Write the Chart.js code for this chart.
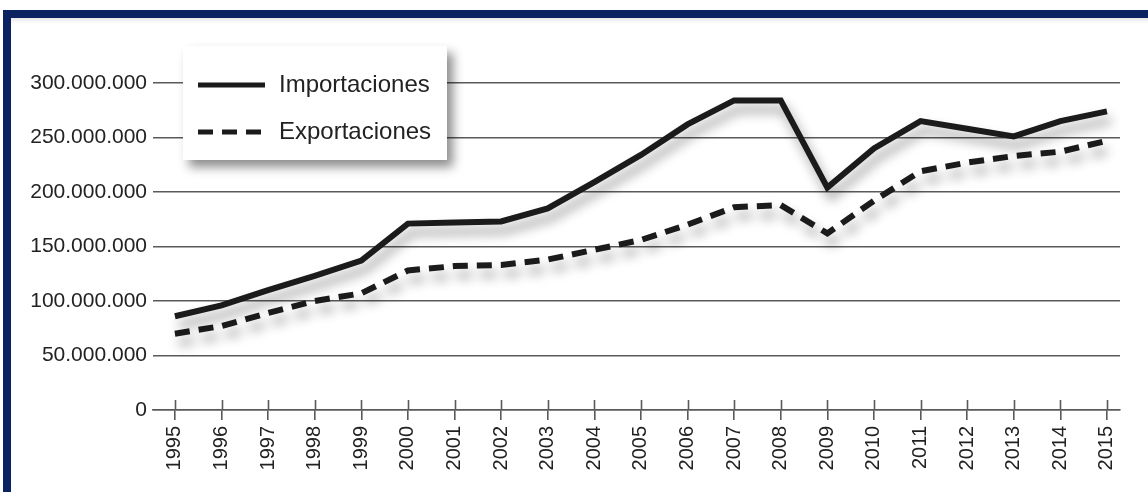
<!DOCTYPE html>
<html>
<head>
<meta charset="utf-8">
<script src="https://cdn.jsdelivr.net/npm/chart.js@4"></script>
<style>
  html, body { margin: 0; padding: 0; background: #fff; }
  #frame {
    position: absolute; left: 3px; top: 10px; width: 1145px; height: 477px;
    border-left: 8px solid #0b2461; border-top: 8px solid #0b2461; border-bottom: 5px solid #0b2461;
    background: #fff; box-shadow: inset 0 5px 5px -3px rgba(0,0,0,0.12);
  }
  #chart-area { position: absolute; left: 0; top: 0; width: 1137px; height: 469px; }
</style>
</head>
<body>
<div id="frame"><div id="chart-area"><canvas id="myChart" width="1137" height="469"></canvas></div></div>
<script>
// years on the x axis
const years = [1995, 1996, 1997, 1998, 1999, 2000, 2001, 2002, 2003, 2004, 2005,
               2006, 2007, 2008, 2009, 2010, 2011, 2012, 2013, 2014, 2015];

const importaciones = [86000000, 96000000, 110000000, 123000000, 137000000, 171000000, 172000000,
                       173000000, 185000000, 209000000, 234000000, 262000000, 284000000, 284000000,
                       204000000, 240000000, 265000000, 258000000, 251000000, 265000000, 274000000];

const exportaciones = [70000000, 77000000, 89000000, 100000000, 107000000, 128000000, 132000000,
                       133000000, 138000000, 147000000, 156000000, 170000000, 186000000, 188000000,
                       162000000, 192000000, 219000000, 227000000, 233000000, 237000000, 247000000];

const yTicks = [0, 50000000, 100000000, 150000000, 200000000, 250000000, 300000000];

const ink = '#1b1b1b';
const gridCol = '#5a5a5a';

function fmt(v) {
    return String(v).replace(/\B(?=(\d{3})+(?!\d))/g, '.');
}

// soft shadow under the two lines
const lineShadow = {
    id: 'lineShadow',
    beforeDatasetDraw(chart) {
        const ctx = chart.ctx;
        ctx.save();
        ctx.shadowColor = 'rgba(0,0,0,0.4)';
        ctx.shadowBlur = 12;
        ctx.shadowOffsetX = 4;
        ctx.shadowOffsetY = 9;
    },
    afterDatasetDraw(chart) {
        chart.ctx.restore();
    }
};

// upper half of the x tick marks (crossing the axis)
const crossTicks = {
    id: 'crossTicks',
    afterDraw(chart) {
        const x = chart.scales.x;
        const ctx = chart.ctx;
        ctx.save();
        ctx.strokeStyle = gridCol;
        ctx.lineWidth = 1.6;
        x.ticks.forEach(t => {
            const px = Math.round(x.getPixelForValue(t.value)) + 0.5;
            ctx.beginPath();
            ctx.moveTo(px, x.top - 10);
            ctx.lineTo(px, x.top);
            ctx.stroke();
        });
        ctx.restore();
    }
};

// boxed legend with drop shadow in the top left corner
const boxLegend = {
    id: 'boxLegend',
    afterDatasetsDraw(chart) {
        const ctx = chart.ctx;
        const a = chart.chartArea;
        const bx = a.left + 30, by = a.top - 37, bw = 264, bh = 114;
        ctx.save();
        ctx.shadowColor = 'rgba(0,0,0,0.45)';
        ctx.shadowBlur = 10;
        ctx.shadowOffsetX = 6;
        ctx.shadowOffsetY = 7;
        ctx.fillStyle = '#fff';
        ctx.fillRect(bx, by, bw, bh);
        ctx.restore();

        ctx.save();
        ctx.font = '24px "Liberation Sans", Arial, sans-serif';
        ctx.textBaseline = 'middle';
        ctx.fillStyle = '#222';
        chart.data.datasets.forEach((ds, i) => {
            const y = by + 39 + i * 47;
            ctx.strokeStyle = ds.borderColor;
            ctx.lineWidth = 5;
            ctx.setLineDash(ds.borderDash || []);
            ctx.beginPath();
            ctx.moveTo(bx + 15, y);
            ctx.lineTo(bx + (ds.borderDash ? 78 : 82), y);
            ctx.stroke();
            ctx.setLineDash([]);
            ctx.fillText(ds.label, bx + 96, y);
        });
        ctx.restore();
    }
};

const ctx = document.getElementById('myChart').getContext('2d');
const chart = new Chart(ctx, {
    type: 'line',
    data: {
        datasets: [{
            label: 'Importaciones',
            data: years.map((y, i) => ({ x: y, y: importaciones[i] })),
            borderColor: ink,
            borderWidth: 6,
            pointRadius: 0,
            tension: 0,
            fill: false
        }, {
            label: 'Exportaciones',
            data: years.map((y, i) => ({ x: y, y: exportaciones[i] })),
            borderColor: ink,
            borderWidth: 6,
            borderDash: [15, 9],
            pointRadius: 0,
            tension: 0,
            fill: false
        }]
    },
    options: {
        responsive: false,
        animation: false,
        layout: { padding: { top: 65, right: 28, left: 0, bottom: 0 } },
        plugins: { legend: { display: false }, tooltip: { enabled: false } },
        scales: {
            x: {
                type: 'linear',
                min: 1994.53,
                max: 2015.28,
                afterFit(scale) { scale.height = 77; },
                border: { display: true, color: gridCol, width: 1.6 },
                grid: { drawOnChartArea: false, drawTicks: true, tickLength: 10, color: gridCol, lineWidth: 1.6 },
                ticks: {
                    stepSize: 1,
                    includeBounds: false,
                    autoSkip: false,
                    minRotation: 90,
                    maxRotation: 90,
                    padding: 6,
                    color: '#222',
                    font: { family: '"Liberation Sans", Arial, sans-serif', size: 20 },
                    callback: v => String(v)
                }
            },
            y: {
                min: 0,
                max: 300000000,
                afterFit(scale) { scale.width = 142; },
                afterBuildTicks(scale) { scale.ticks = yTicks.map(v => ({ value: v })); },
                border: { display: false },
                grid: { drawTicks: false, color: gridCol, lineWidth: 1.5 },
                ticks: {
                    padding: 6,
                    color: '#222',
                    font: { family: '"Liberation Sans", Arial, sans-serif', size: 21 },
                    callback: v => fmt(v)
                }
            }
        }
    },
    plugins: [lineShadow, crossTicks, boxLegend]
});
</script>
</body>
</html>
